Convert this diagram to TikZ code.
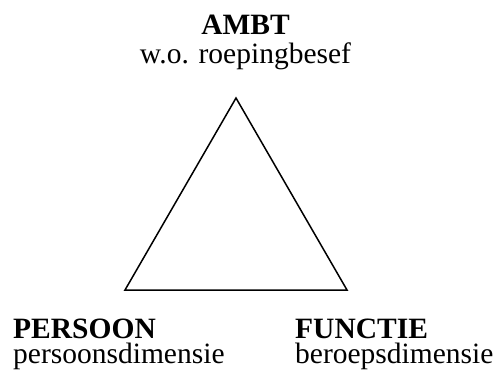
\documentclass[tikz,border=0pt]{standalone}
\usepackage{fontspec}
\setmainfont{Liberation Serif}
\usetikzlibrary{calc}

\tikzset{
  label/.style={inner sep=0pt, font=\fontsize{29.5}{25}\selectfont},
  toplabel/.style={label, align=center, anchor=base},
  cornerlabel/.style={label, align=left, anchor=base west}
}

\begin{document}
\begin{tikzpicture}[x=1pt, y=-1pt]
  \useasboundingbox (0,0) rectangle (494,376);
  % corners of the triangle
  \coordinate (top) at (236,98);
  \coordinate (left) at (125,290);
  \coordinate (right) at (347,290);
  \draw[line width=1.5pt, line join=miter] (top) -- (left) -- (right) -- cycle;
  % texts (anchored at the baseline of the last line)
  \node[toplabel, font=\fontsize{29.5}{29}\selectfont] (ambt) at (245.5,63)
    {\textbf{AMBT}\\w.o. roepingbesef};
  \node[cornerlabel] (persoon) at (13,363)
    {\textbf{PERSOON}\\persoonsdimensie};
  \node[cornerlabel] (functie) at (295,363)
    {\textbf{FUNCTIE}\\beroepsdimensie};
\end{tikzpicture}
\end{document}
